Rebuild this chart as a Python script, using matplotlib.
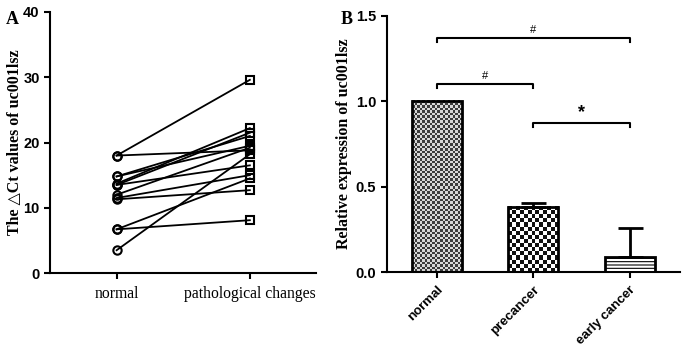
import numpy as np
import matplotlib
matplotlib.use("Agg")
import matplotlib.pyplot as plt
from matplotlib.colors import ListedColormap

# panel A: paired delta Ct values
groups_a = ["normal", "pathological changes"]
normal_ct = [18.0, 18.0, 14.8, 14.8, 13.7, 13.5, 13.5, 12.0, 11.5, 11.3, 6.7, 6.7, 3.5]
patho_ct = [29.6, 18.8, 21.0, 19.5, 22.2, 21.5, 16.5, 19.2, 15.0, 12.7, 14.5, 8.1, 18.2]

# panel B: relative expression
groups_b = ["normal", "precancer", "early cancer"]
rel_expr = [1.0, 0.38, 0.092]
rel_err = [0.0, 0.025, 0.17]
# significance brackets: (i, j, height, label)
brackets = [(0, 2, 1.37, "#"), (0, 1, 1.10, "#"), (1, 2, 0.875, "*")]

serif = ["Liberation Serif", "DejaVu Serif"]
sans = ["Liberation Sans", "DejaVu Sans"]
plt.rcParams["hatch.linewidth"] = 0.8

fig = plt.figure(figsize=(6.85, 3.51), dpi=100)
ax1 = fig.add_axes([0.073, 0.222, 0.389, 0.744])
ax2 = fig.add_axes([0.5645, 0.224, 0.428, 0.731])


def style(ax):
    for s in ["top", "right"]:
        ax.spines[s].set_visible(False)
    for s in ["left", "bottom"]:
        ax.spines[s].set_linewidth(1.5)
    ax.tick_params(direction="out", length=4, width=1.5)
    for lab in ax.get_yticklabels():
        lab.set_family(sans)
        lab.set_fontweight("bold")
        lab.set_fontsize(10.5)


# ---- A ----
for n, p in zip(normal_ct, patho_ct):
    ax1.plot([0, 1], [n, p], color="black", lw=1.3, zorder=2)
ax1.plot(np.zeros(len(normal_ct)), normal_ct, ls="none", marker="o", ms=6,
         mfc="none", mec="black", mew=1.5, zorder=3)
ax1.plot(np.ones(len(patho_ct)), patho_ct, ls="none", marker="s", ms=6,
         mfc="none", mec="black", mew=1.5, zorder=3)
ax1.set_xlim(-0.5, 1.5)
ax1.set_ylim(0, 40)
ax1.set_yticks([0, 10, 20, 30, 40])
ax1.set_xticks([0, 1])
ax1.set_xticklabels(groups_a, family=serif, fontsize=11.3)
ax1.set_ylabel("The \u25b3Ct values of uc001lsz", family=serif,
               fontweight="bold", fontsize=11.5)
ax1.yaxis.set_label_coords(-0.105, 0.5)
style(ax1)
ax1.tick_params(axis="x", pad=5)

# ---- B ----
xb = np.arange(len(groups_b))
ax2.set_xlim(-0.52, 2.52)
ax2.set_ylim(0, 1.5)
bars = ax2.bar(xb, rel_expr, width=0.52, facecolor="none", edgecolor="black",
               linewidth=2, zorder=3)
bars[2].set_hatch("-----")
bars[2].set_facecolor("white")


def checker(ax, bar, cellpx, colors):
    x0, y0 = bar.get_x(), bar.get_y()
    w, h = bar.get_width(), bar.get_height()
    p0 = ax.transData.transform((x0, y0))
    p1 = ax.transData.transform((x0 + w, y0 + h))
    nx = max(1, int(round((p1[0] - p0[0]) / cellpx)))
    ny = max(1, int(round((p1[1] - p0[1]) / cellpx)))
    arr = np.add.outer(np.arange(ny), np.arange(nx)) % 2
    ax.imshow(arr, extent=(x0, x0 + w, y0, y0 + h), cmap=ListedColormap(colors),
              interpolation="nearest", aspect="auto", zorder=2)


checker(ax2, bars[0], 2.5, ["#3c3c3c", "#d8d8d8"])
checker(ax2, bars[1], 4.0, ["#111111", "#ffffff"])
ax2.set_xlim(-0.52, 2.52)
ax2.set_ylim(0, 1.5)

ax2.errorbar(xb[1:], rel_expr[1:], yerr=[[0] * 2, rel_err[1:]], fmt="none",
             ecolor="black", elinewidth=2, capsize=9, capthick=2, zorder=4)

for i, j, h, lab in brackets:
    ax2.plot([i, i, j, j], [h - 0.025, h, h, h - 0.025], color="black", lw=1.5)
    if lab == "*":
        ax2.text((i + j) / 2, h + 0.01, lab, ha="center", va="bottom",
                 fontsize=13, family=sans, fontweight="bold")
    else:
        ax2.text((i + j) / 2, h + 0.02, lab, ha="center", va="bottom",
                 fontsize=8, family=sans)

ax2.set_yticks([0, 0.5, 1.0, 1.5])
ax2.set_yticklabels(["0.0", "0.5", "1.0", "1.5"])
ax2.set_xticks(xb)
ax2.set_xticklabels(groups_b, rotation=45, ha="right", rotation_mode="anchor",
                    family=sans, fontweight="bold", fontsize=9.5)
ax2.set_ylabel("Relative expression of uc001lsz", family=serif,
               fontweight="bold", fontsize=11.5)
ax2.yaxis.set_label_coords(-0.118, 0.5)
style(ax2)
ax2.tick_params(axis="x", pad=4)

fig.text(0.008, 0.97, "A", family=serif, fontweight="bold", fontsize=13,
         va="top")
fig.text(0.498, 0.97, "B", family=serif, fontweight="bold", fontsize=13,
         va="top")

fig.savefig("out.png", dpi=100)
